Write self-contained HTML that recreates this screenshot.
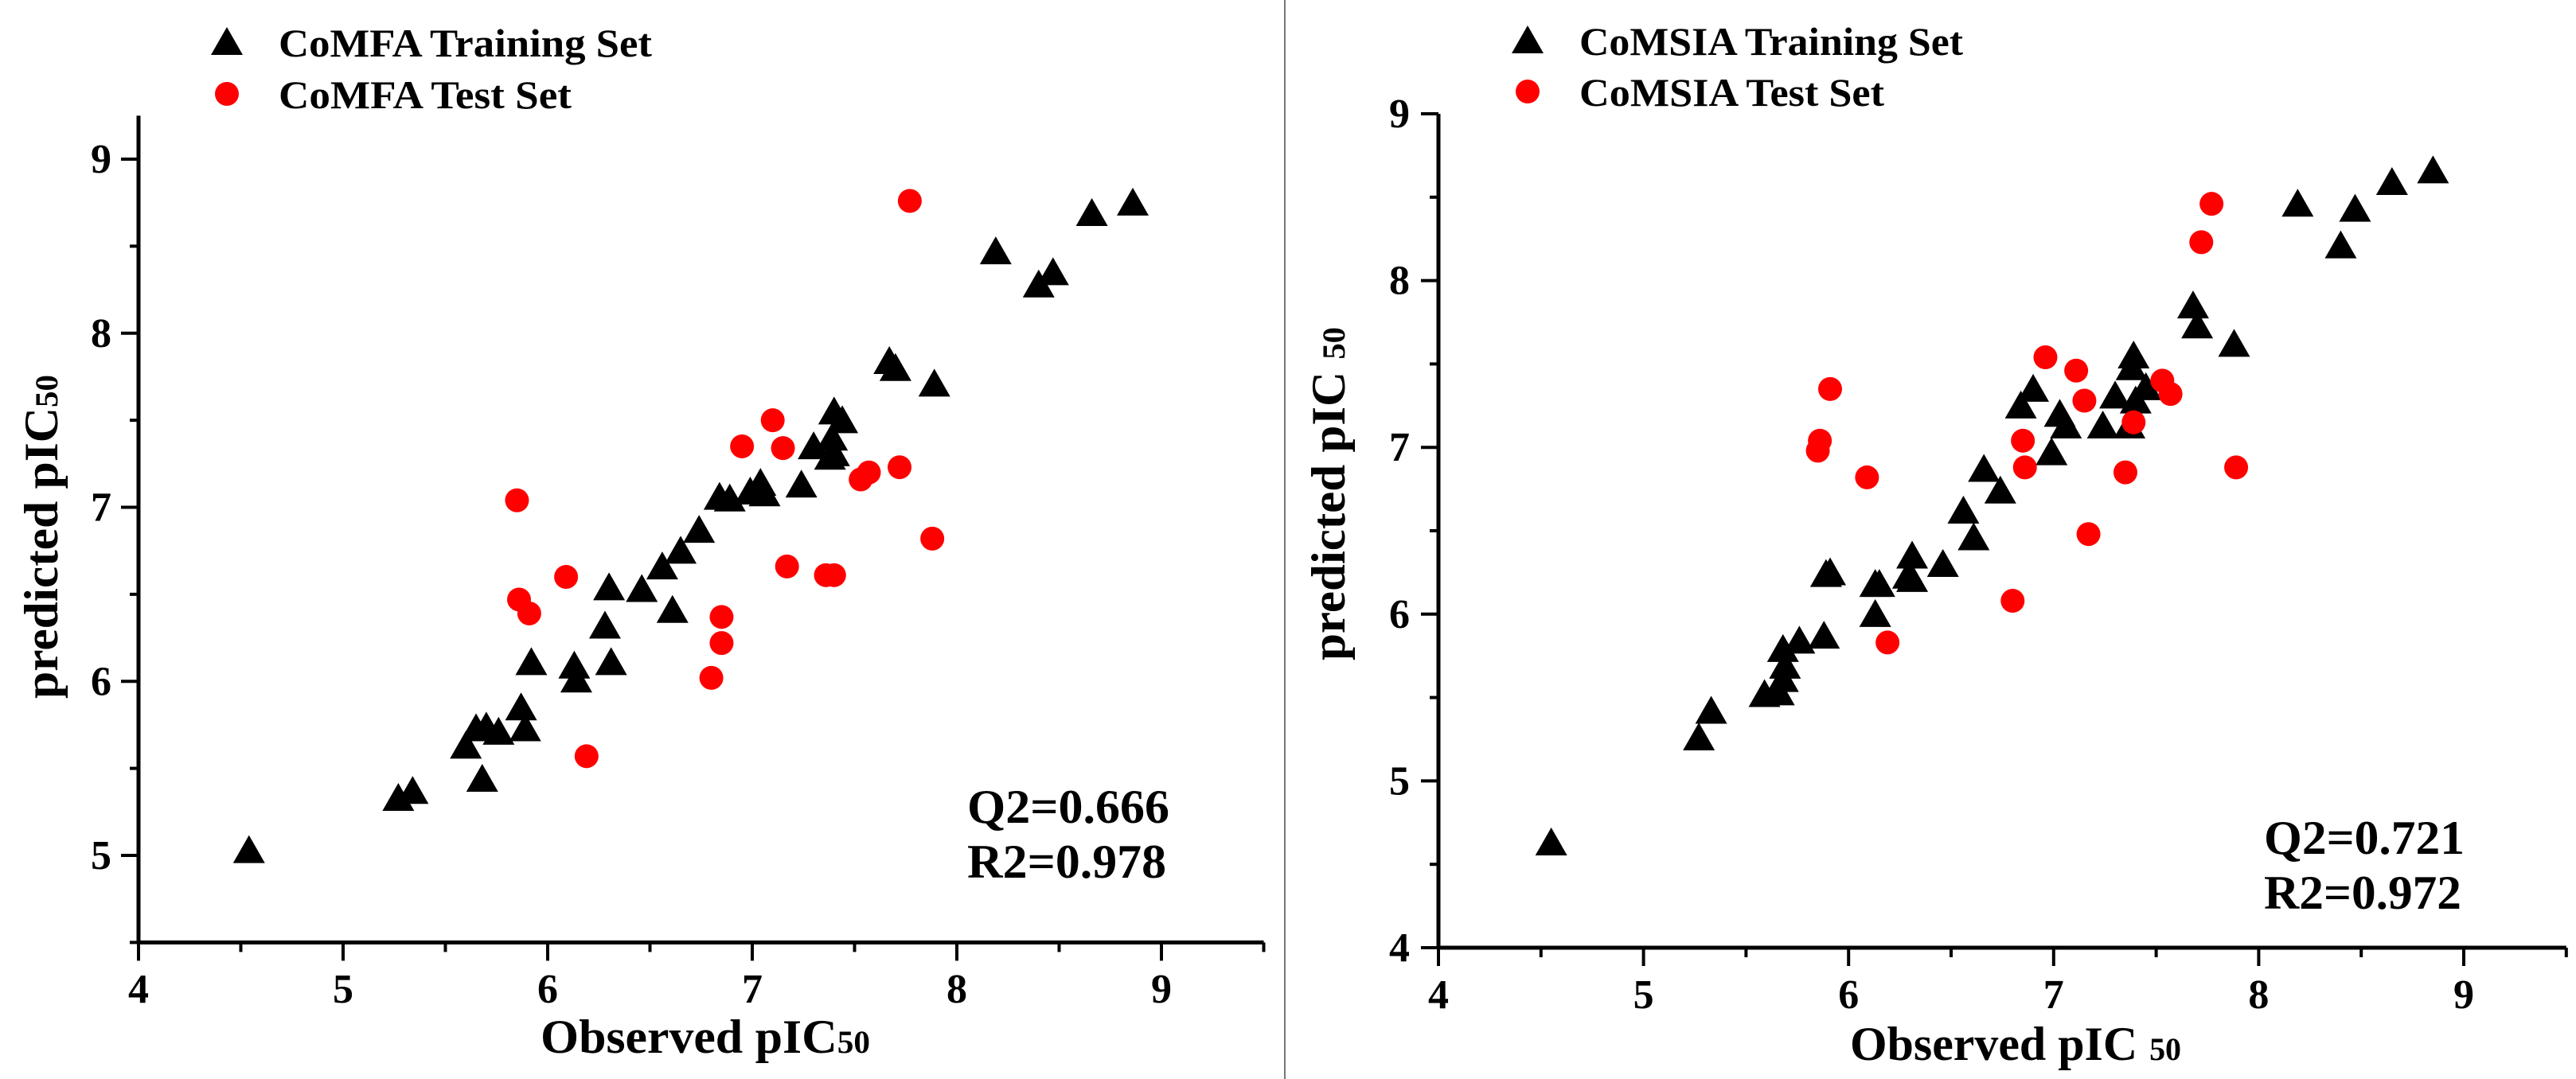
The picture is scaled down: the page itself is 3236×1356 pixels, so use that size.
<!DOCTYPE html>
<html><head><meta charset="utf-8"><style>
html,body{margin:0;padding:0;background:#fff;}
svg{display:block;}
text{font-family:"Liberation Serif",serif;font-weight:bold;fill:#000;}
</style></head><body>
<svg id="chart" width="3236" height="1356" viewBox="0 0 3236 1356" xmlns="http://www.w3.org/2000/svg">
<rect x="0" y="0" width="3236" height="1356" fill="#fff"/>
<line x1="1614" y1="0" x2="1614" y2="1356" stroke="#777" stroke-width="2"/>
</svg>
<script>
// ---- data ----
const comfaTrainObs = [4.54,5.27,5.34,5.60,5.68,5.65,5.70,5.76,5.87,5.89,5.92,6.13,6.14,6.31,6.28,6.30,6.46,6.56,6.61,6.65,6.74,6.84,6.89,6.99,7.04,7.06,7.24,7.30,7.38,7.39,7.40,7.40,7.44,7.67,7.70,7.89,8.19,8.40,8.47,8.66,8.86];
const comfaTrainPred = [5.02,5.32,5.36,5.62,5.43,5.72,5.73,5.70,5.84,5.72,6.10,6.08,6.00,6.10,6.31,6.53,6.52,6.65,6.40,6.74,6.86,7.05,7.04,7.08,7.13,7.07,7.12,7.34,7.28,7.39,7.30,7.54,7.49,7.83,7.79,7.70,8.46,8.27,8.34,8.68,8.74];
const comfaTestObs = [5.85,5.86,5.91,6.09,6.19,6.80,6.85,6.85,6.95,7.10,7.15,7.17,7.36,7.40,7.53,7.57,7.72,7.88,7.77];
const comfaTestPred = [7.04,6.47,6.39,6.60,5.57,6.02,6.22,6.37,7.35,7.50,7.34,6.66,6.61,6.61,7.16,7.20,7.23,6.82,8.76];
const comsiaTrainObs = [4.55,5.27,5.33,5.59,5.66,5.68,5.69,5.68,5.76,5.88,5.89,5.91,6.13,6.13,6.15,6.29,6.31,6.31,6.46,6.56,6.61,6.66,6.74,6.84,6.90,6.99,7.03,7.06,7.24,7.30,7.37,7.40,7.39,7.38,7.45,7.68,7.70,7.88,8.19,8.40,8.47,8.65,8.85];
const comsiaTrainPred = [4.62,5.25,5.41,5.51,5.52,5.60,5.68,5.78,5.83,5.86,6.23,6.24,6.17,5.99,6.17,6.22,6.20,6.34,6.29,6.61,6.45,6.86,6.73,7.24,7.34,6.96,7.19,7.12,7.12,7.30,7.12,7.27,7.54,7.47,7.35,7.84,7.72,7.61,8.45,8.20,8.42,8.58,8.65];
const comsiaTestObs = [5.85,5.86,5.91,6.09,6.19,6.80,6.85,6.86,6.96,7.11,7.15,7.17,7.35,7.39,7.53,7.57,7.72,7.77,7.89];
const comsiaTestPred = [6.98,7.04,7.35,6.82,5.83,6.08,7.04,6.88,7.54,7.46,7.28,6.48,6.85,7.15,7.40,7.32,8.23,8.46,6.88];
const xTickLabels = ["4","5","6","7","8","9"];
const leftYTickLabels = ["5","6","7","8","9"];
const rightYTickLabels = ["4","5","6","7","8","9"];

const NS = "http://www.w3.org/2000/svg";
const svg = document.getElementById("chart");
function mk(tag, attrs, parent){
  const e = document.createElementNS(NS, tag);
  for (const k in attrs) e.setAttribute(k, attrs[k]);
  (parent||svg).appendChild(e);
  return e;
}

function panel(cfg){
  const g = mk("g", {});
  
  
  const xs = v => cfg.x0 + (v - 4) * cfg.xu;
  const ys = v => cfg.y9 + (9 - v) * cfg.yu;
  const axisY = ys(cfg.yMin), axisX = xs(4), xEnd = xs(9.5), yTop = ys(cfg.yMax);
  const xa = mk("line", {x1:axisX-2, y1:axisY, x2:xEnd, y2:axisY, stroke:"#000","stroke-width":5}, g);
  
  
  const ya = mk("line", {x1:axisX, y1:yTop, x2:axisX, y2:axisY+2, stroke:"#000","stroke-width":5}, g);
  
  
  for (let v = 4; v <= 9.5001; v += 0.5){
    const major = Math.abs(v - Math.round(v)) < 1e-6;
    mk("line", {x1:xs(v), y1:axisY, x2:xs(v), y2:axisY + (major?23:12), stroke:"#000","stroke-width":4}, g);
  }
  xTickLabels.forEach(l => {
    const t = mk("text", {x:xs(+l), y:cfg.xLabY, "font-size":52, "text-anchor":"middle"}, g);
    t.textContent = l;
    
    
  });
  for (let v = cfg.yMin; v <= cfg.yMax + 1e-6; v += 0.5){
    const major = Math.abs(v - Math.round(v)) < 1e-6;
    mk("line", {x1:axisX - (major?22:11), y1:ys(v), x2:axisX, y2:ys(v), stroke:"#000","stroke-width":4}, g);
  }
  cfg.yLabels.forEach(l => {
    const t = mk("text", {x:cfg.yLabX, y:ys(+l)+17, "font-size":52, "text-anchor":"end"}, g);
    t.textContent = l;
    
    
  });
  const xt = mk("text", {x:cfg.xtX, y:cfg.xtY, "font-size":60, textLength:cfg.xtW, lengthAdjust:"spacingAndGlyphs"}, g);
  xt.innerHTML = cfg.xtText;
  
  
  const yt = mk("text", {x:0, y:0, "font-size":60, textLength:cfg.ytW, lengthAdjust:"spacingAndGlyphs",
     transform:`translate(${cfg.ytX},${cfg.ytY}) rotate(-90)`}, g);
  yt.innerHTML = cfg.ytText;
  
  
  const tri = (cx, cy) => `${cx},${cy-21} ${cx-20},${cy+14} ${cx+20},${cy+14}`;
  cfg.trainObs.forEach((o, i) => {
    const p = mk("polygon", {points:tri(xs(o), ys(cfg.trainPred[i])), fill:"#000"}, g);
    
    
  });
  cfg.testObs.forEach((o, i) => {
    const c = mk("ellipse", {cx:xs(o), cy:ys(cfg.testPred[i]), rx:15, ry:15, fill:"#ff0000"}, g);
    
    
  });
  const lt = mk("polygon", {points:tri(cfg.legX, cfg.legY1+3), fill:"#000"}, g);
  
  
  const lc = mk("ellipse", {cx:cfg.legX, cy:cfg.legY2, rx:15, ry:15, fill:"#ff0000"}, g);
  
  
  const l1 = mk("text", {x:cfg.legTX, y:cfg.legY1+19, "font-size":50, textLength:cfg.leg1W, lengthAdjust:"spacingAndGlyphs"}, g);
  l1.textContent = cfg.leg1;
  
  
  const l2 = mk("text", {x:cfg.legTX, y:cfg.legY2+18, "font-size":50, textLength:cfg.leg2W, lengthAdjust:"spacingAndGlyphs"}, g);
  l2.textContent = cfg.leg2;
  
  
  const q = mk("text", {x:cfg.stX, y:cfg.stY1, "font-size":60, textLength:cfg.stW, lengthAdjust:"spacingAndGlyphs"}, g);
  q.textContent = cfg.q2;
  
  
  const r = mk("text", {x:cfg.stX, y:cfg.stY1+69, "font-size":60, textLength:cfg.stW-4, lengthAdjust:"spacingAndGlyphs"}, g);
  r.textContent = cfg.r2;
  
  
}

panel({name:"comfa-panel", x0:174, xu:257, y9:200, yu:218.75, yMin:4.5, yMax:9.25,
  xLabY:1260, yLabels:leftYTickLabels, yLabX:140,
  xtX:679, xtY:1323, xtW:414, xtText:'Observed pIC<tspan font-size="40">50</tspan>',
  ytX:72, ytY:878, ytW:407, ytText:'predicted pIC<tspan font-size="40">50</tspan>',
  trainObs:comfaTrainObs, trainPred:comfaTrainPred, testObs:comfaTestObs, testPred:comfaTestPred,
  legX:285, legY1:52, legY2:118, legTX:350, leg1:"CoMFA Training Set", leg1W:469, leg2:"CoMFA Test Set", leg2W:368,
  stX:1215, stY1:1034, stW:254, q2:"Q2=0.666", r2:"R2=0.978"});

panel({name:"comsia-panel", x0:1807, xu:257.6, y9:143, yu:209.6, yMin:4, yMax:9,
  xLabY:1267, yLabels:rightYTickLabels, yLabX:1771,
  xtX:2324, xtY:1332, xtW:416, xtText:'Observed pIC <tspan font-size="40">50</tspan>',
  ytX:1689, ytY:830, ytW:419, ytText:'predicted pIC <tspan font-size="40">50</tspan>',
  trainObs:comsiaTrainObs, trainPred:comsiaTrainPred, testObs:comsiaTestObs, testPred:comsiaTestPred,
  legX:1919, legY1:50, legY2:115, legTX:1984, leg1:"CoMSIA Training Set", leg1W:482, leg2:"CoMSIA Test Set", leg2W:383,
  stX:2844, stY1:1073, stW:252, q2:"Q2=0.721", r2:"R2=0.972"});
</script>
</body></html>
